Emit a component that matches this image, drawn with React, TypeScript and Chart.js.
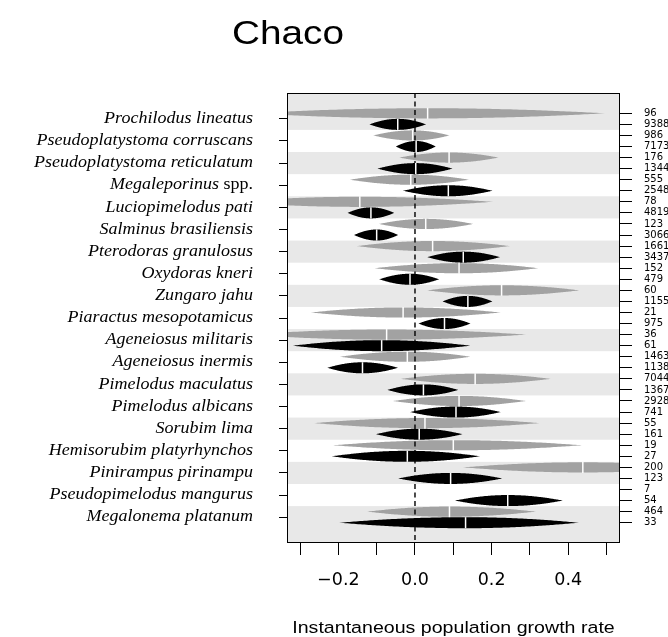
import React, { useEffect, useRef } from 'react';
import { Chart, registerables } from 'chart.js';

Chart.register(...registerables);

// ---------- data ----------
const chartTitle = 'Chaco';
const xAxisTitle = 'Instantaneous population growth rate';

const species = [
  'Prochilodus lineatus',
  'Pseudoplatystoma corruscans',
  'Pseudoplatystoma reticulatum',
  'Megaleporinus spp.',
  'Luciopimelodus pati',
  'Salminus brasiliensis',
  'Pterodoras granulosus',
  'Oxydoras kneri',
  'Zungaro jahu',
  'Piaractus mesopotamicus',
  'Ageneiosus militaris',
  'Ageneiosus inermis',
  'Pimelodus maculatus',
  'Pimelodus albicans',
  'Sorubim lima',
  'Hemisorubim platyrhynchos',
  'Pinirampus pirinampu',
  'Pseudopimelodus mangurus',
  'Megalonema platanum',
];

// sample size shown at the right of every row (2 rows per species)
const sampleSizes = [
  96, 9388, 986, 7173, 176, 1344, 555, 2548, 78, 4819, 123, 3066, 1661, 3437,
  152, 479, 60, 1155, 21, 975, 36, 61, 1463, 1138, 7044, 1367, 2928, 741, 55,
  161, 19, 27, 200, 123, 7, 54, 464, 33,
];

// first row of each species (grey)
const greyLow = [-0.43, -0.109, -0.041, -0.17, -0.49, -0.094, -0.152, -0.106, 0.032, -0.272, -0.44, -0.196, -0.037, -0.057, -0.263, -0.213, 0.125, null, -0.125];
const greyMedian = [0.033, -0.006, 0.089, -0.011, -0.144, 0.028, 0.046, 0.115, 0.226, -0.031, -0.074, -0.02, 0.157, 0.115, 0.026, 0.1, 0.438, null, 0.09];
const greyHigh = [0.496, 0.09, 0.218, 0.141, 0.204, 0.152, 0.248, 0.322, 0.429, 0.224, 0.29, 0.145, 0.354, 0.289, 0.325, 0.435, 0.751, null, 0.316];

// second row of each species (black)
const blackLow = [-0.119, -0.05, -0.098, -0.031, -0.176, -0.159, 0.032, -0.093, 0.072, 0.009, -0.319, -0.229, -0.072, -0.013, -0.102, -0.218, -0.044, 0.104, -0.198];
const blackMedian = [-0.045, 0.003, 0.002, 0.087, -0.115, -0.1, 0.126, -0.013, 0.138, 0.077, -0.087, -0.137, 0.022, 0.107, 0.011, -0.02, 0.093, 0.242, 0.132];
const blackHigh = [0.029, 0.054, 0.098, 0.202, -0.054, -0.044, 0.222, 0.063, 0.202, 0.145, 0.145, -0.044, 0.113, 0.224, 0.124, 0.17, 0.228, 0.386, 0.428];

const xTicks = [-0.3, -0.2, -0.1, 0, 0.1, 0.2, 0.3, 0.4, 0.5];
const xLabelledTicks = [-0.2, 0, 0.2, 0.4];
const xMin = -0.334;
const xMax = 0.535;

// ---------- styling ----------
const rowCount = sampleSizes.length;
const rowPad = 1.835;
const bandColor = '#e8e8e8';
const greyColor = '#a2a2a2';
const blackColor = '#000000';
const textStretch = 1.14;

function makeRows(low, med, high, offset) {
  const out = [];
  for (let i = 0; i < med.length; i++) {
    if (med[i] == null) continue;
    out.push({ x: med[i], y: 2 * i + offset, lo: low[i], hi: high[i] });
  }
  return out;
}

function profile(t) {
  const v = 1 - t * t;
  return v <= 0 ? 0 : Math.pow(v, 1.05);
}

const lensPlugin = {
  id: 'lensPlugin',
  beforeDatasetsDraw(chart) {
    const { ctx, chartArea: a, scales } = chart;
    const xs = scales.x;
    const ys = scales.y;
    const rowPx = Math.abs(ys.getPixelForValue(1) - ys.getPixelForValue(0));
    ctx.save();
    ctx.beginPath();
    ctx.rect(a.left, a.top, a.right - a.left, a.bottom - a.top);
    ctx.clip();

    // alternating bands
    for (let i = 0; i < species.length; i += 2) {
      const top = i === 0 ? a.top : ys.getPixelForValue(2 * i - 0.5);
      const bottom = i === species.length - 1 ? a.bottom : ys.getPixelForValue(2 * i + 1.5);
      ctx.fillStyle = bandColor;
      ctx.fillRect(a.left, top, a.right - a.left, bottom - top);
    }

    // lens shapes
    const N = 60;
    chart.data.datasets.forEach((ds) => {
      ds.data.forEach((d) => {
        const xl = xs.getPixelForValue(d.lo);
        const xm = xs.getPixelForValue(d.x);
        const xh = xs.getPixelForValue(d.hi);
        const yc = ys.getPixelForValue(d.y);
        const hh = ds.lensHalfHeight * rowPx;
        ctx.beginPath();
        for (let k = 0; k <= N; k++) {
          const px = xl + ((xm - xl) * k) / N;
          ctx.lineTo(px, yc - hh * profile(1 - k / N));
        }
        for (let k = 1; k <= N; k++) {
          const px = xm + ((xh - xm) * k) / N;
          ctx.lineTo(px, yc - hh * profile(k / N));
        }
        for (let k = N - 1; k >= 0; k--) {
          const px = xm + ((xh - xm) * k) / N;
          ctx.lineTo(px, yc + hh * profile(k / N));
        }
        for (let k = N - 1; k >= 1; k--) {
          const px = xl + ((xm - xl) * k) / N;
          ctx.lineTo(px, yc + hh * profile(1 - k / N));
        }
        ctx.closePath();
        ctx.fillStyle = ds.backgroundColor;
        ctx.fill();
      });
    });

    // dashed zero line
    const x0 = xs.getPixelForValue(0);
    ctx.beginPath();
    ctx.setLineDash([5, 3.5]);
    ctx.lineWidth = 1.4;
    ctx.strokeStyle = '#000';
    ctx.moveTo(x0, a.top);
    ctx.lineTo(x0, a.bottom);
    ctx.stroke();
    ctx.setLineDash([]);

    // median markers
    ctx.strokeStyle = '#ffffff';
    ctx.lineWidth = 1.5;
    chart.data.datasets.forEach((ds) => {
      ds.data.forEach((d) => {
        const xm = xs.getPixelForValue(d.x);
        const yc = ys.getPixelForValue(d.y);
        ctx.beginPath();
        ctx.moveTo(xm, yc - rowPx * 0.5);
        ctx.lineTo(xm, yc + rowPx * 0.5);
        ctx.stroke();
      });
    });
    ctx.restore();

    // box
    ctx.save();
    ctx.strokeStyle = '#000';
    ctx.lineWidth = 1;
    ctx.strokeRect(Math.round(a.left) + 0.5, Math.round(a.top) + 0.5, Math.round(a.right - a.left) - 1, Math.round(a.bottom - a.top) - 1);
    ctx.restore();
  },
  afterDraw(chart) {
    const { ctx, chartArea: a, scales } = chart;
    const ys = scales.y;
    ctx.save();
    ctx.fillStyle = '#000';

    // main title
    ctx.save();
    ctx.font = '34px "Liberation Sans", Arial, sans-serif';
    ctx.textAlign = 'center';
    ctx.textBaseline = 'alphabetic';
    ctx.translate(288, 44);
    ctx.scale(textStretch, 1);
    ctx.fillText(chartTitle, 0, 0);
    ctx.restore();

    // x axis title
    ctx.save();
    ctx.font = '17.2px "Liberation Sans", Arial, sans-serif';
    ctx.textAlign = 'center';
    ctx.textBaseline = 'alphabetic';
    ctx.translate((a.left + a.right) / 2, 633);
    ctx.scale(textStretch, 1);
    ctx.fillText(xAxisTitle, 0, 0);
    ctx.restore();

    // species labels
    const italic = 'italic 15.8px "Liberation Serif", "Times New Roman", serif';
    const roman = '15.8px "Liberation Serif", "Times New Roman", serif';
    const rightX = a.left - 34;
    species.forEach((name, i) => {
      const y = ys.getPixelForValue(2 * i + 0.5);
      let italicPart = name;
      let romanPart = '';
      const m = name.match(/^(.*?)( spp\.)$/);
      if (m) {
        italicPart = m[1];
        romanPart = m[2];
      }
      ctx.save();
      ctx.translate(rightX, y);
      ctx.scale(textStretch, 1);
      ctx.textAlign = 'right';
      ctx.textBaseline = 'middle';
      let offset = 0;
      if (romanPart) {
        ctx.font = roman;
        ctx.fillText(romanPart, 0, 0);
        offset = ctx.measureText(romanPart).width;
      }
      ctx.font = italic;
      ctx.fillText(italicPart, -offset, 0);
      ctx.restore();
    });
    ctx.restore();
  },
};

function fmt(v) {
  const s = Math.abs(v) < 1e-9 ? '0.0' : v.toFixed(1);
  return s.replace('-', '\u2212');
}

export default function App() {
  const canvasRef = useRef(null);

  useEffect(() => {
    document.body.style.margin = '0';
    const canvas = canvasRef.current;
    const chart = new Chart(canvas, {
      type: 'scatter',
      data: {
        datasets: [
          {
            label: 'grey',
            data: makeRows(greyLow, greyMedian, greyHigh, 0),
            backgroundColor: greyColor,
            lensHalfHeight: 0.46,
            pointRadius: 0,
            pointHoverRadius: 0,
            showLine: false,
          },
          {
            label: 'black',
            data: makeRows(blackLow, blackMedian, blackHigh, 1),
            backgroundColor: blackColor,
            lensHalfHeight: 0.5,
            pointRadius: 0,
            pointHoverRadius: 0,
            showLine: false,
          },
        ],
      },
      options: {
        animation: false,
        responsive: false,
        devicePixelRatio: 1,
        layout: { padding: { top: 93, left: 0, right: 0, bottom: 0 } },
        plugins: { legend: { display: false }, tooltip: { enabled: false }, title: { display: false } },
        events: [],
        scales: {
          x: {
            type: 'linear',
            position: 'bottom',
            min: xMin,
            max: xMax,
            afterBuildTicks: (scale) => {
              scale.ticks = xTicks.map((v) => ({ value: v }));
            },
            afterFit: (scale) => {
              scale.height = 94;
            },
            border: { display: false },
            grid: { drawOnChartArea: false, drawTicks: true, tickLength: 12, color: '#000', lineWidth: 1 },
            ticks: {
              autoSkip: false,
              maxRotation: 0,
              padding: 15,
              color: '#000',
              font: { family: '"DejaVu Sans", sans-serif', size: 17.5 },
              callback: (value) => (xLabelledTicks.some((l) => Math.abs(l - value) < 1e-9) ? fmt(value) : ''),
            },
          },
          y: {
            type: 'linear',
            position: 'left',
            reverse: true,
            min: -rowPad,
            max: rowCount - 1 + rowPad,
            afterBuildTicks: (scale) => {
              scale.ticks = species.map((_, i) => ({ value: 2 * i + 0.5 }));
            },
            afterFit: (scale) => {
              scale.width = 287;
            },
            border: { display: false },
            grid: { drawOnChartArea: false, drawTicks: true, tickLength: 8, color: '#000', lineWidth: 1 },
            ticks: { autoSkip: false, callback: () => '' },
          },
          y2: {
            type: 'linear',
            position: 'right',
            reverse: true,
            min: -rowPad,
            max: rowCount - 1 + rowPad,
            afterBuildTicks: (scale) => {
              scale.ticks = sampleSizes.map((_, i) => ({ value: i }));
            },
            afterFit: (scale) => {
              scale.width = 48;
            },
            border: { display: false },
            grid: { drawOnChartArea: false, drawTicks: true, tickLength: 12, color: '#000', lineWidth: 1 },
            ticks: {
              autoSkip: false,
              padding: 12,
              color: '#000',
              font: { family: '"DejaVu Sans", sans-serif', size: 10 },
              callback: (value) => String(sampleSizes[Math.round(value)]),
            },
          },
        },
      },
      plugins: [lensPlugin],
    });
    return () => chart.destroy();
  }, []);

  return (
    <div style={{ width: 668, height: 637, overflow: 'hidden' }}>
      <canvas ref={canvasRef} width={668} height={637} style={{ display: 'block' }} />
    </div>
  );
}
